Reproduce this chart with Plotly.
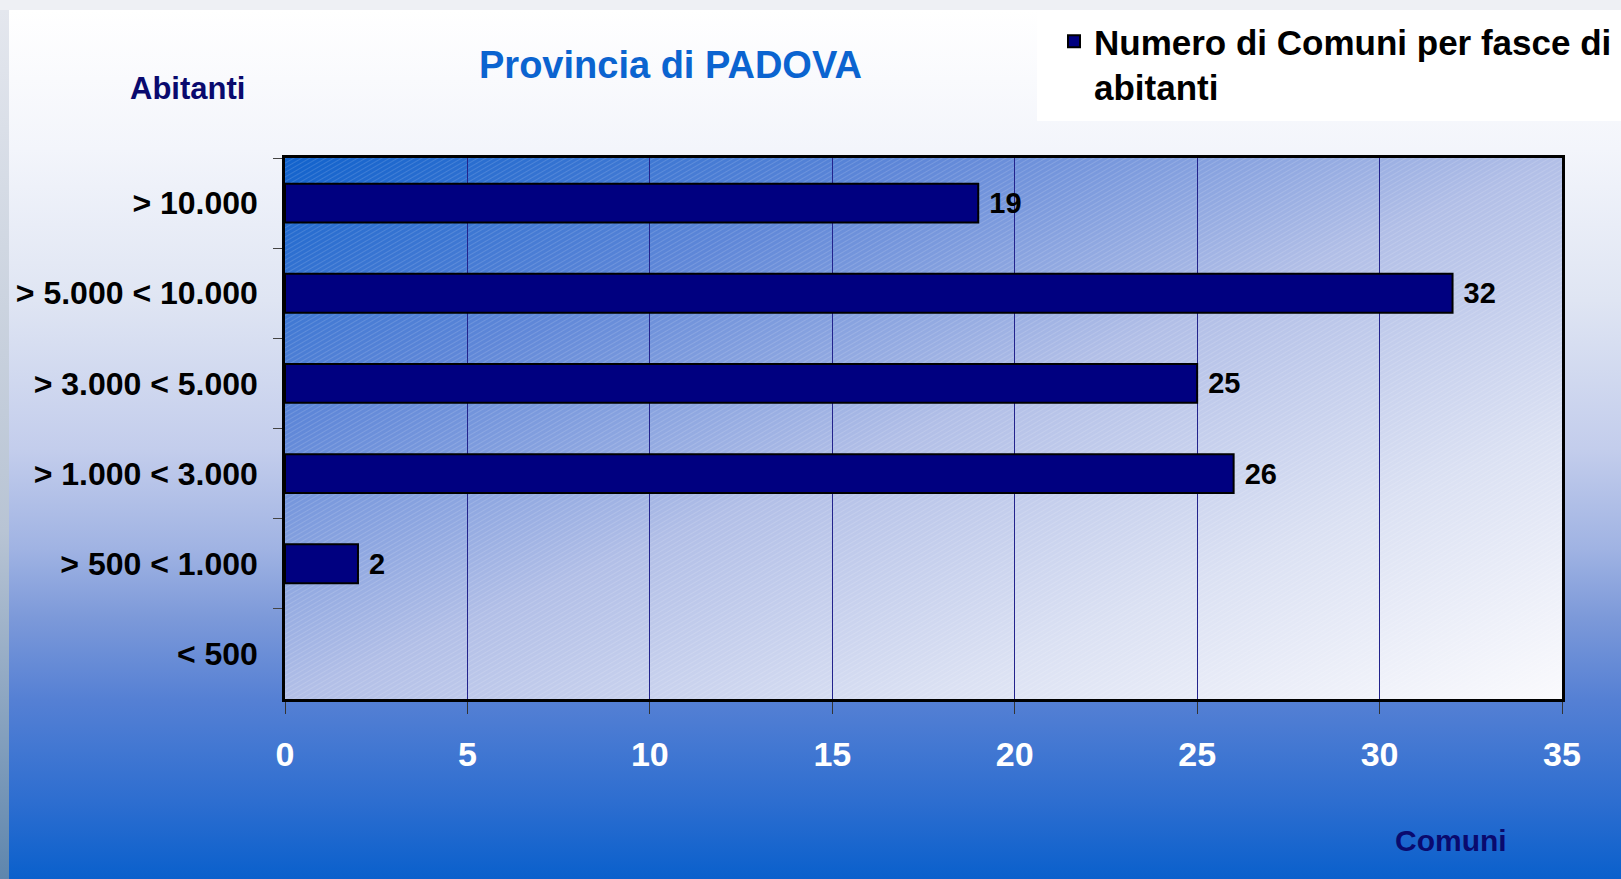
import base64
import plotly.graph_objects as go

# --- data -------------------------------------------------------------
fasce = ["> 10.000", "> 5.000 < 10.000", "> 3.000 < 5.000",
         "> 1.000 < 3.000", "> 500 < 1.000", "< 500"]
comuni = [19, 32, 25, 26, 2, 0]
x_ticks = [0, 5, 10, 15, 20, 25, 30, 35]

serie_nome = "Numero di Comuni per fasce di<br>abitanti"
titolo = "Provincia di PADOVA"

# --- geometry (pixels) ------------------------------------------------
W, H = 1621, 879
L, R, T, B = 285, 59, 158, 180
PW, PH = W - L - R, H - T - B

FONT = "Liberation Sans Narrow, Arial Narrow, Liberation Sans, Arial, sans-serif"


def px_x(x):
    return (x - L) / PW


def px_y(y):
    return 1 - (y - T) / PH


def svg_uri(svg):
    return "data:image/svg+xml;base64," + base64.b64encode(svg.encode()).decode()


# slide background: white fading to blue towards the bottom
bg_svg = f"""<svg xmlns='http://www.w3.org/2000/svg' width='{W}' height='{H}' viewBox='0 0 {W} {H}' preserveAspectRatio='none'>
<defs>
<linearGradient id='bg' x1='0' y1='0' x2='0' y2='1'>
<stop offset='0' stop-color='#ffffff'/>
<stop offset='0.16' stop-color='#f3f5fb'/>
<stop offset='0.334' stop-color='#dfe5f3'/>
<stop offset='0.506' stop-color='#c3cdec'/>
<stop offset='0.62' stop-color='#a0b3e3'/>
<stop offset='0.70' stop-color='#7c99d9'/>
<stop offset='0.794' stop-color='#5580d4'/>
<stop offset='0.909' stop-color='#2e6ed0'/>
<stop offset='1' stop-color='#0a60cc'/>
</linearGradient>
<linearGradient id='side' x1='0' y1='0' x2='0' y2='1'>
<stop offset='0' stop-color='#e4e7ee'/>
<stop offset='0.6' stop-color='#b8c4d4'/>
<stop offset='1' stop-color='#5f86ad'/>
</linearGradient>
</defs>
<rect width='{W}' height='{H}' fill='#eef0f4'/>
<rect x='0' y='10' width='9' height='{H - 10}' fill='url(#side)'/>
<rect x='9' y='10' width='{W - 9}' height='{H - 10}' fill='url(#bg)'/>
</svg>"""

# plot area: diagonal blue -> white gradient with a faint hatch
plot_svg = f"""<svg xmlns='http://www.w3.org/2000/svg' width='{PW}' height='{PH}' viewBox='0 0 {PW} {PH}' preserveAspectRatio='none'>
<defs>
<linearGradient id='pa' x1='0' y1='0' x2='1' y2='1'>
<stop offset='0' stop-color='#1162cc'/>
<stop offset='0.25' stop-color='#5f87d8'/>
<stop offset='0.5' stop-color='#b2bfe7'/>
<stop offset='0.75' stop-color='#dbe1f3'/>
<stop offset='1' stop-color='#fafafd'/>
</linearGradient>
<pattern id='h' width='4' height='4' patternUnits='userSpaceOnUse' patternTransform='rotate(-30)'>
<line x1='0' y1='0' x2='4' y2='0' stroke='#ffffff' stroke-width='0.8' stroke-opacity='0.35'/>
</pattern>
</defs>
<rect width='{PW}' height='{PH}' fill='url(#pa)'/>
<rect width='{PW}' height='{PH}' fill='url(#h)'/>
</svg>"""

fig = go.Figure(go.Bar(
    x=comuni,
    y=fasce,
    orientation="h",
    name=serie_nome,
    marker=dict(color="#000080",
                line=dict(color="black", width=[2 if v else 0 for v in comuni])),
    text=["\u00a0" + str(v) if v else "" for v in comuni],
    textposition="outside",
    textfont=dict(family=FONT, size=29, color="black", weight="bold"),
    cliponaxis=False,
))

fig.update_layout(
    width=W, height=H,
    margin=dict(l=L, r=R, t=T, b=B, autoexpand=False),
    paper_bgcolor="#eef0f4",
    plot_bgcolor="rgba(0,0,0,0)",
    font=dict(family=FONT, color="black"),
    bargap=0.57,
    showlegend=True,
    legend=dict(
        x=px_x(1054), y=px_y(12), xanchor="left", yanchor="top",
        bgcolor="rgba(0,0,0,0)",
        font=dict(family=FONT, size=35, color="black", weight="bold"),
        itemwidth=30, valign="top",
    ),
    xaxis=dict(
        range=[0, 35], tickvals=x_ticks,
        showgrid=True, gridcolor="#23238c", gridwidth=1,
        zeroline=False,
        showline=True, linecolor="black", linewidth=2.5, mirror=True,
        ticks="outside", ticklen=12, tickcolor="#333333", tickwidth=1,
        tickfont=dict(family=FONT, size=34, color="white", weight="bold"),
        ticklabelstandoff=11,
    ),
    yaxis=dict(
        categoryorder="array", categoryarray=fasce, autorange="reversed",
        showline=True, linecolor="black", linewidth=2.5, mirror=True,
        ticks="outside", tickson="boundaries", ticklen=9,
        tickcolor="#444444", tickwidth=1,
        showgrid=False,
        tickfont=dict(family=FONT, size=32, color="black", weight="bold"),
        ticklabelstandoff=18,
    ),
    images=[
        dict(source=svg_uri(bg_svg), xref="paper", yref="paper",
             x=px_x(0), y=px_y(0), sizex=W / PW, sizey=H / PH,
             xanchor="left", yanchor="top", sizing="stretch", layer="below"),
        dict(source=svg_uri(plot_svg), xref="paper", yref="paper",
             x=0, y=1, sizex=1, sizey=1,
             xanchor="left", yanchor="top", sizing="stretch", layer="below"),
    ],
    shapes=[
        # white box behind the legend
        dict(type="rect", xref="paper", yref="paper",
             x0=px_x(1037), x1=px_x(W), y0=px_y(121), y1=px_y(10),
             fillcolor="white", line=dict(width=0), layer="below"),
    ],
    annotations=[
        dict(text=titolo, xref="paper", yref="paper", x=px_x(670), y=px_y(65),
             showarrow=False, xanchor="center", yanchor="middle",
             font=dict(family=FONT, size=38, color="#0b64d0", weight="bold")),
        dict(text="Abitanti", xref="paper", yref="paper", x=px_x(187), y=px_y(89),
             showarrow=False, xanchor="center", yanchor="middle",
             font=dict(family=FONT, size=31, color="#0a0a6e", weight="bold")),
        dict(text="Comuni", xref="paper", yref="paper", x=px_x(1451), y=px_y(840),
             showarrow=False, xanchor="center", yanchor="middle",
             font=dict(family=FONT, size=30, color="#0a0a6e", weight="bold")),
    ],
)

fig.write_html("out.html", config={"displayModeBar": False},
               post_script="document.body.style.margin='0';document.body.style.overflow='hidden';")
